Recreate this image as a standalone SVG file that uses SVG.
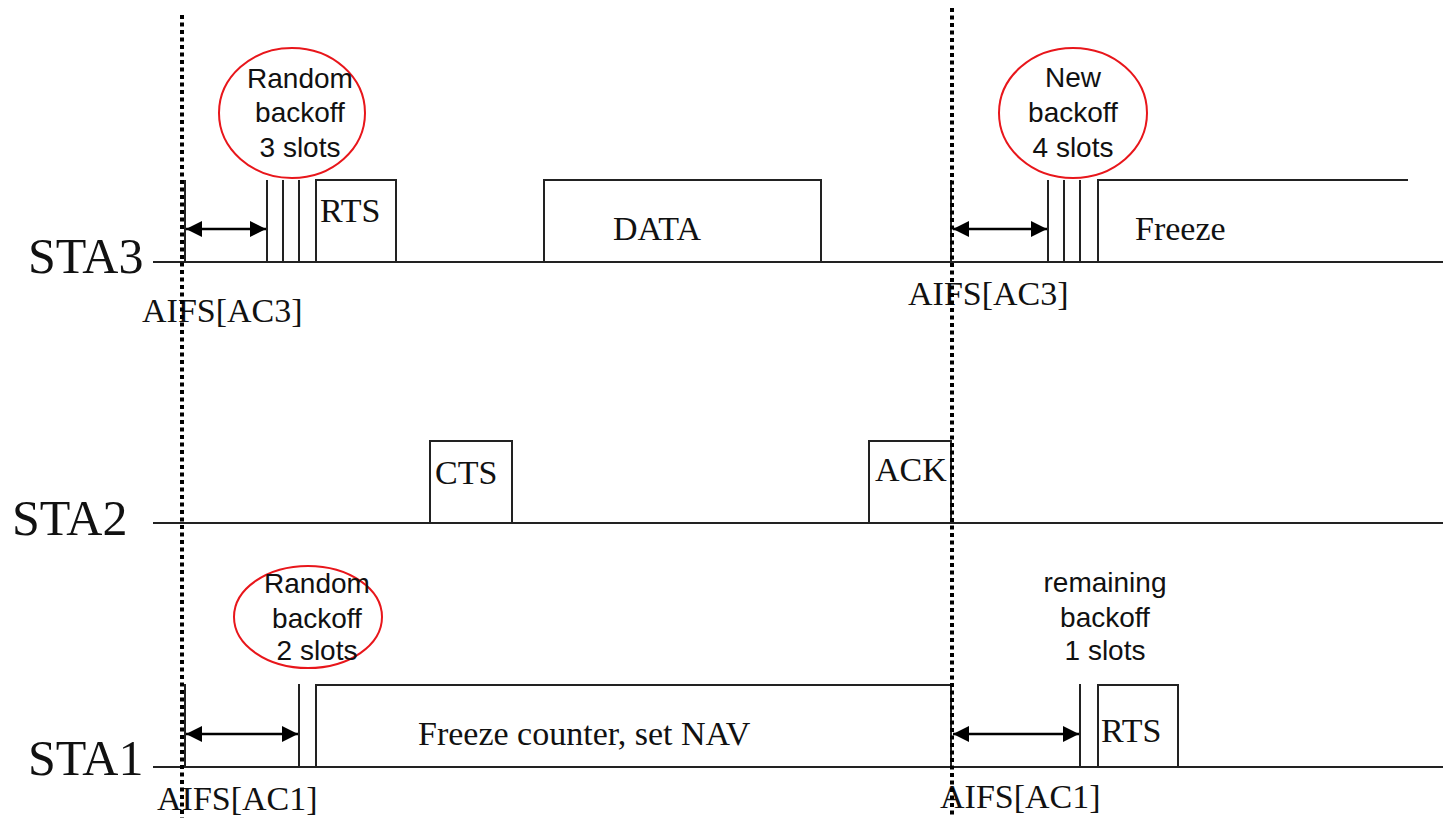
<svg xmlns="http://www.w3.org/2000/svg" width="1443" height="818" viewBox="0 0 1443 818">
<defs>
<style>
.ln{stroke:#222;stroke-width:2;fill:none}
.bx{stroke:#222;stroke-width:2;fill:#fff}
.dot{stroke:#000;stroke-width:4;stroke-dasharray:4 3.5;fill:none}
.arr{stroke:#000;stroke-width:2.5;fill:none;marker-start:url(#ah);marker-end:url(#ah)}
.ell{stroke:#e8161b;stroke-width:2;fill:none}
.serif{font-family:"Liberation Serif","Times New Roman",serif;font-size:34px;fill:#111}
.sta{font-family:"Liberation Serif","Times New Roman",serif;font-size:50px;fill:#111}
.sans{font-family:"Liberation Sans",Arial,sans-serif;font-size:28px;fill:#111;text-anchor:middle}
</style>
<marker id="ah" viewBox="0 0 16 16" refX="16" refY="8" markerWidth="16" markerHeight="16" markerUnits="userSpaceOnUse" orient="auto-start-reverse">
<path d="M0,0 L16,8 L0,16 z" fill="#000"/>
</marker>
</defs>
<rect width="1443" height="818" fill="#fff"/>

<g id="timelines">
<line class="ln" x1="153" y1="262" x2="1443" y2="262"/>
<line class="ln" x1="153" y1="523" x2="1443" y2="523"/>
<line class="ln" x1="153" y1="767" x2="1443" y2="767"/>
<text class="sta" x="28" y="273">STA3</text>
<text class="sta" x="12" y="535">STA2</text>
<text class="sta" x="28" y="775">STA1</text>
</g>

<g id="sta3">
<line class="ln" x1="185" y1="180" x2="185" y2="262"/>
<line class="ln" x1="267" y1="180" x2="267" y2="262"/>
<line class="ln" x1="283" y1="180" x2="283" y2="262"/>
<line class="ln" x1="299" y1="180" x2="299" y2="262"/>
<rect class="bx" x="316" y="180" width="80" height="82"/>
<text class="serif" x="320" y="222">RTS</text>
<rect class="bx" x="544" y="180" width="277" height="82"/>
<text class="serif" x="613" y="240">DATA</text>
<line class="ln" x1="951" y1="180" x2="951" y2="262"/>
<line class="ln" x1="1048" y1="180" x2="1048" y2="262"/>
<line class="ln" x1="1064" y1="180" x2="1064" y2="262"/>
<line class="ln" x1="1080" y1="180" x2="1080" y2="262"/>
<path class="ln" d="M1098,262 V180 H1408"/>
<text class="serif" x="1135" y="240">Freeze</text>
<text class="serif" x="142" y="322">AIFS[AC3]</text>
<text class="serif" x="908" y="305">AIFS[AC3]</text>
</g>

<g id="sta2">
<rect class="bx" x="430" y="441" width="82" height="82"/>
<text class="serif" x="435" y="484">CTS</text>
<rect class="bx" x="869" y="441" width="82" height="82"/>
<text class="serif" x="875" y="481">ACK</text>
</g>

<g id="sta1">
<line class="ln" x1="185" y1="684" x2="185" y2="767"/>
<line class="ln" x1="299" y1="684" x2="299" y2="767"/>
<rect class="bx" x="316" y="685" width="635" height="82"/>
<text class="serif" x="418" y="745">Freeze counter, set NAV</text>
<line class="ln" x1="1080" y1="684" x2="1080" y2="767"/>
<rect class="bx" x="1098" y="685" width="80" height="82"/>
<text class="serif" x="1101" y="742">RTS</text>
<text class="serif" x="157" y="810">AIFS[AC1]</text>
<text class="serif" x="940" y="808">AIFS[AC1]</text>
</g>

<g id="notes">
<ellipse class="ell" cx="292" cy="113" rx="73" ry="65"/>
<text class="sans" x="300" y="88">Random</text>
<text class="sans" x="300" y="122">backoff</text>
<text class="sans" x="300" y="157">3 slots</text>
<ellipse class="ell" cx="1073" cy="113" rx="74" ry="65"/>
<text class="sans" x="1073" y="87">New</text>
<text class="sans" x="1073" y="122">backoff</text>
<text class="sans" x="1073" y="157">4 slots</text>
<ellipse class="ell" cx="308" cy="617" rx="74" ry="51"/>
<text class="sans" x="317" y="593">Random</text>
<text class="sans" x="317" y="628">backoff</text>
<text class="sans" x="317" y="660">2 slots</text>
<text class="sans" x="1105" y="592">remaining</text>
<text class="sans" x="1105" y="627">backoff</text>
<text class="sans" x="1105" y="660">1 slots</text>
</g>

<g id="connectors">
<line class="dot" x1="182" y1="15" x2="182" y2="818"/>
<line class="dot" x1="952" y1="8" x2="952" y2="818"/>
<line class="arr" x1="186" y1="229" x2="266" y2="229"/>
<line class="arr" x1="953" y1="229" x2="1047" y2="229"/>
<line class="arr" x1="186" y1="734" x2="298" y2="734"/>
<line class="arr" x1="953" y1="734" x2="1079" y2="734"/>
</g>
</svg>
